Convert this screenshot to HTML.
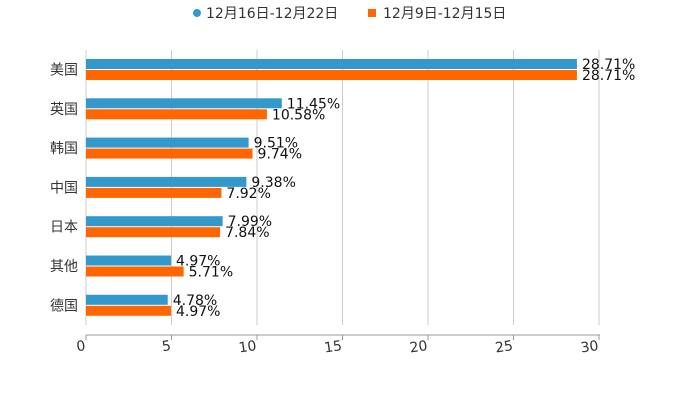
<!DOCTYPE html>
<html><head><meta charset="utf-8"><style>
body{margin:0;background:#fff;}
svg{display:block;font-family:"DejaVu Sans","Noto Sans CJK SC",sans-serif;}
</style></head><body>
<svg id="chart" width="700" height="400">
<g>
<g><circle cx="197" cy="13" r="4" fill="#3399cc"/><text x="206" y="18" font-size="14" fill="#333">12月16日-12月22日</text></g>
<g><rect x="368" y="9" width="8" height="8" fill="#ff6600"/><text x="383" y="18" font-size="14" fill="#333">12月9日-12月15日</text></g>
</g>
<g id="grid"></g>
<g id="bars"></g>
<g id="axes"></g>
</svg>
<script>
const categories=["美国","英国","韩国","中国","日本","其他","德国"];
const seriesA=[28.71,11.45,9.51,9.38,7.99,4.97,4.78];
const seriesB=[28.71,10.58,9.74,7.92,7.84,5.71,4.97];
const ticks=[0,5,10,15,20,25,30];
const NS="http://www.w3.org/2000/svg";
const x=v=>86+v*(599-86)/30;
const yc=i=>69.5+i*39.3;
function el(t,a,p){const e=document.createElementNS(NS,t);for(const k in a)e.setAttribute(k,a[k]);document.getElementById(p).appendChild(e);return e;}
ticks.forEach(t=>{
 const g=el("line",{x1:x(t),x2:x(t),y1:50,y2:325,stroke:"#ccc","stroke-width":1},"grid");
 
 
 const tk=el("line",{x1:x(t),x2:x(t),y1:335,y2:340,stroke:"#999"},"axes");
 
 
 const lb=el("text",{x:x(t),y:350,"font-size":14,fill:"#333","text-anchor":"end",transform:`rotate(-8 ${x(t)} 350)`},"axes");
 lb.textContent=t;
 
 
});
const ax=el("line",{x1:86,x2:600,y1:335,y2:335,stroke:"#999"},"axes");


categories.forEach((c,i)=>{
 const cy=yc(i);
 const l=el("text",{x:78,y:cy+5,"font-size":14,fill:"#333","text-anchor":"end"},"axes");
 l.textContent=c;
 
 
 const a=el("rect",{x:86,y:cy-10.5,width:x(seriesA[i])-86,height:10,fill:"#3399cc"},"bars");
 
 
 const b=el("rect",{x:86,y:cy+0.5,width:x(seriesB[i])-86,height:10,fill:"#ff6600"},"bars");
 
 
 const ta=el("text",{x:x(seriesA[i])+5,y:cy-0.5,"font-size":14,fill:"#111"},"bars");
 ta.textContent=seriesA[i].toFixed(2)+"%";
 
 
 const tb=el("text",{x:x(seriesB[i])+5,y:cy+10.5,"font-size":14,fill:"#111"},"bars");
 tb.textContent=seriesB[i].toFixed(2)+"%";
 
 
});
</script>
</body></html>
